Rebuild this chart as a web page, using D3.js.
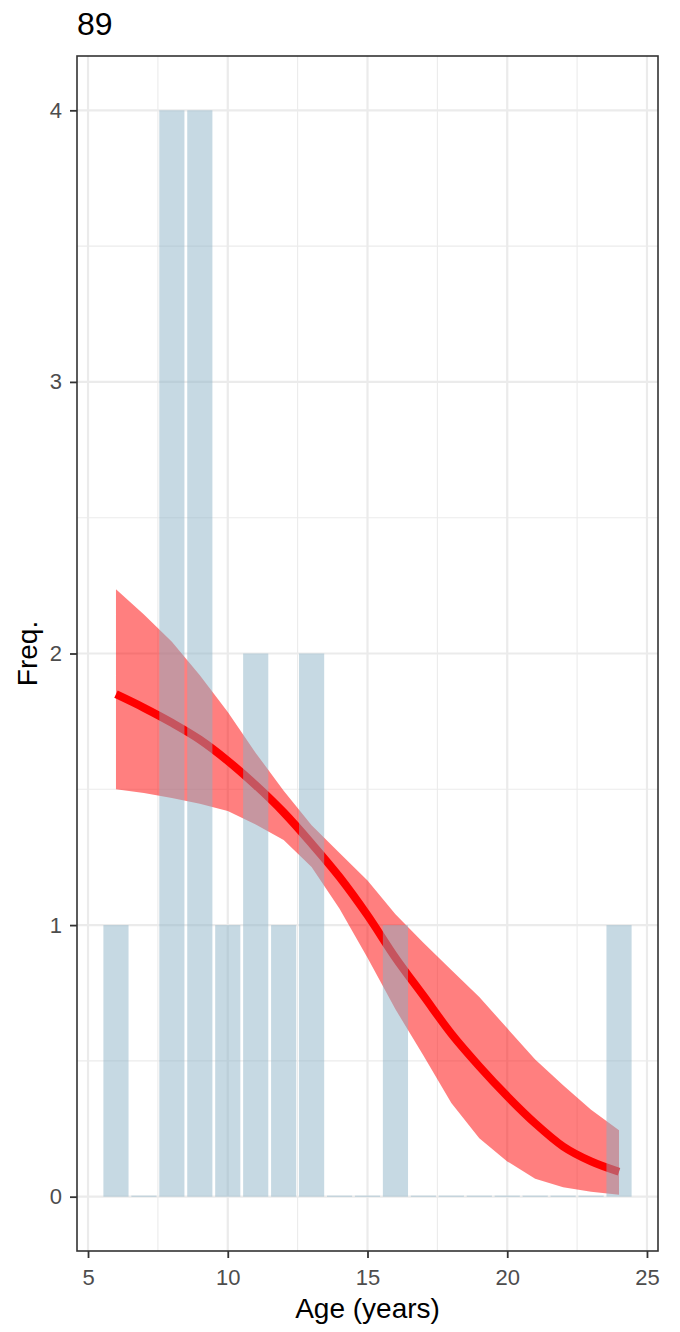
<!DOCTYPE html>
<html lang="en">
<head>
<meta charset="utf-8">
<title>89</title>
<script src="https://d3js.org/d3.v7.min.js"></script>
<style>
  body { margin: 0; background: #fff; }
  svg { display: block; font-family: "Liberation Sans", Arial, Helvetica, sans-serif; }
</style>
</head>
<body>
<svg id="chart" width="680" height="1332"></svg>
<script>
// data
var ages   = [6, 7, 8, 9, 10, 11, 12, 13, 14, 15, 16, 17, 18, 19, 20, 21, 22, 23, 24];
var counts = [1, 0, 4, 4, 1, 2, 1, 2, 0, 0, 1, 0, 0, 0, 0, 0, 0, 0, 1];
var fit    = [1.85, 1.80, 1.745, 1.683, 1.605, 1.515, 1.415, 1.30, 1.177, 1.036, 0.88, 0.74, 0.60, 0.48, 0.37, 0.27, 0.185, 0.13, 0.092];
var upper  = [2.237, 2.144, 2.043, 1.92, 1.785, 1.634, 1.495, 1.368, 1.265, 1.164, 1.04, 0.935, 0.835, 0.735, 0.62, 0.505, 0.41, 0.32, 0.245];
var lower  = [1.50, 1.486, 1.468, 1.447, 1.42, 1.37, 1.313, 1.214, 1.06, 0.88, 0.69, 0.52, 0.345, 0.215, 0.13, 0.066, 0.035, 0.018, 0.007];
var xTicks = [5, 10, 15, 20, 25];
var yTicks = [0, 1, 2, 3, 4];

var svg = d3.select("#chart");
var pL = 77, pR = 658, pT = 56, pB = 1251;

var x = d3.scaleLinear().domain([4.6055, 25.3945]).range([pL, pR]);
var y = d3.scaleLinear().domain([-0.2, 4.2]).range([pB, pT]);

var g = svg.append("g");

// minor grid
var xMinor = [7.5, 12.5, 17.5, 22.5], yMinor = [0.5, 1.5, 2.5, 3.5];
g.selectAll(".vminor").data(xMinor).enter().append("line")
  .attr("x1", d => x(d)).attr("x2", d => x(d)).attr("y1", pT).attr("y2", pB)
  .attr("stroke", "#ebebeb").attr("stroke-width", 1.1);
g.selectAll(".hminor").data(yMinor).enter().append("line")
  .attr("y1", d => y(d)).attr("y2", d => y(d)).attr("x1", pL).attr("x2", pR)
  .attr("stroke", "#ebebeb").attr("stroke-width", 1.1);
// major grid
g.selectAll(".vmajor").data(xTicks).enter().append("line")
  .attr("x1", d => x(d)).attr("x2", d => x(d)).attr("y1", pT).attr("y2", pB)
  .attr("stroke", "#ebebeb").attr("stroke-width", 2.2);
g.selectAll(".hmajor").data(yTicks).enter().append("line")
  .attr("y1", d => y(d)).attr("y2", d => y(d)).attr("x1", pL).attr("x2", pR)
  .attr("stroke", "#ebebeb").attr("stroke-width", 2.2);

// ribbon + fitted line
var rows = ages.map((a, i) => ({ a: a, f: fit[i], lo: lower[i], hi: upper[i] }));
g.append("path").datum(rows)
  .attr("d", d3.area().x(d => x(d.a)).y0(d => y(d.lo)).y1(d => y(d.hi)))
  .attr("fill", "#ff0000").attr("fill-opacity", 0.5);
g.append("path").datum(rows)
  .attr("d", d3.line().x(d => x(d.a)).y(d => y(d.f)).curve(d3.curveMonotoneX))
  .attr("fill", "none").attr("stroke", "#ff0000").attr("stroke-width", 8);

// bars, drawn on top with transparency
var bw = 0.9;
var barData = ages.map((a, i) => ({ a: a, n: counts[i] }));
g.selectAll(".bar").data(barData.filter(d => d.n > 0)).enter().append("rect")
  .attr("x", d => x(d.a - bw / 2)).attr("width", d => x(d.a + bw / 2) - x(d.a - bw / 2))
  .attr("y", d => y(d.n)).attr("height", d => y(0) - y(d.n))
  .attr("fill", "rgb(135,176,197)").attr("fill-opacity", 0.48);
g.selectAll(".zero").data(barData.filter(d => d.n === 0)).enter().append("line")
  .attr("x1", d => x(d.a - bw / 2)).attr("x2", d => x(d.a + bw / 2))
  .attr("y1", y(0) - 0.5).attr("y2", y(0) - 0.5)
  .attr("stroke", "rgb(135,176,197)").attr("stroke-opacity", 0.48).attr("stroke-width", 1.2);

// panel border
svg.append("rect").attr("x", pL).attr("y", pT).attr("width", pR - pL).attr("height", pB - pT)
  .attr("fill", "none").attr("stroke", "#333").attr("stroke-width", 1.6);

// axes
var xAxis = svg.append("g").attr("transform", "translate(0," + pB + ")")
  .call(d3.axisBottom(x).tickValues(xTicks).tickSize(7).tickPadding(11).tickFormat(d3.format("d")));
var yAxis = svg.append("g").attr("transform", "translate(" + pL + ",0)")
  .call(d3.axisLeft(y).tickValues(yTicks).tickSize(7).tickPadding(8).tickFormat(d3.format("d")));
[xAxis, yAxis].forEach(function (ax) {
  ax.attr("font-family", null).attr("font-size", 22);
  ax.select(".domain").remove();
  ax.selectAll(".tick line").attr("stroke", "#333").attr("stroke-width", 1.8);
  ax.selectAll(".tick text").attr("fill", "#4d4d4d");
});

// titles
svg.append("text").attr("x", pL).attr("y", 35).attr("font-size", 32).attr("fill", "#000").text("89");
svg.append("text").attr("x", (pL + pR) / 2).attr("y", 1318).attr("text-anchor", "middle")
  .attr("font-size", 28).attr("fill", "#000").text("Age (years)");
svg.append("text").attr("transform", "translate(37," + ((pT + pB) / 2) + ") rotate(-90)")
  .attr("text-anchor", "middle").attr("font-size", 28).attr("fill", "#000").text("Freq.");
</script>
</body>
</html>
